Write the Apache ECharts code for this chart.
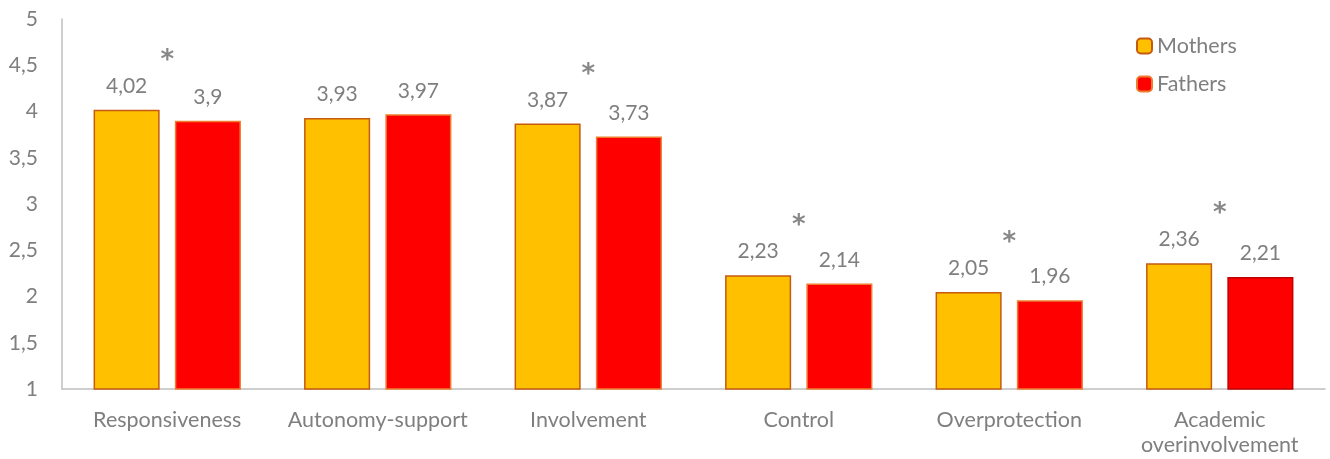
<!DOCTYPE html>
<html>
<head>
<meta charset="utf-8">
<script src="https://cdn.jsdelivr.net/npm/echarts@6/dist/echarts.min.js"></script>
<style>html,body{margin:0;padding:0;background:#fff;}#c{width:1330px;height:459px;}</style>
</head>
<body>
<div id="c"></div>
<script>
var categories = ['Responsiveness', 'Autonomy-support', 'Involvement', 'Control', 'Overprotection', 'Academic\noverinvolvement'];
var mothers = [4.02, 3.93, 3.87, 2.23, 2.05, 2.36];
var fathers = [3.9, 3.97, 3.73, 2.14, 1.96, 2.21];
var significant = [true, false, true, true, true, true];
var yTicks = [1, 1.5, 2, 2.5, 3, 3.5, 4, 4.5, 5];

var FONT = 'Lato, "Liberation Sans", sans-serif';
var GRAY = '#7f7f7f';
function fmt(v) { return String(v).replace('.', ','); }

var sigData = categories.map(function (c, i) {
  return significant[i] ? Math.max(mothers[i], fathers[i]) + 0.6 : null;
});

var fatherData = fathers.map(function (v, i) {
  return i === fathers.length - 1 ? { value: v, itemStyle: { borderColor: '#C00000' } } : v;
});

var chart = echarts.init(document.getElementById('c'));
chart.setOption({
  animation: false,
  textStyle: { fontFamily: FONT },
  grid: { left: 62, right: 5, top: 19, bottom: 70, containLabel: false },
  legend: {
    orient: 'vertical', left: 1131, top: 30, itemWidth: 15, itemHeight: 15, itemGap: 16,
    textStyle: { fontSize: 21.5, color: GRAY, fontFamily: FONT },
    data: ['Mothers', 'Fathers']
  },
  xAxis: {
    type: 'category', data: categories,
    axisLine: { lineStyle: { color: '#bfbfbf', width: 1.5 } },
    axisTick: { show: false },
    axisLabel: { color: GRAY, fontSize: 21.5, margin: 19, lineHeight: 25, fontFamily: FONT, interval: 0 }
  },
  yAxis: {
    type: 'value', min: 1, max: 5, interval: 0.5,
    axisLine: { show: true, lineStyle: { color: '#bfbfbf', width: 1.5 } },
    axisTick: { show: false },
    splitLine: { show: false },
    axisLabel: {
      color: GRAY, fontSize: 21, margin: 24, fontFamily: FONT,
      formatter: function (v) { return yTicks.indexOf(v) >= 0 ? fmt(v) : ''; }
    }
  },
  series: [
    {
      name: 'Mothers', type: 'bar', data: mothers, barGap: '23%', barCategoryGap: '30%',
      itemStyle: { color: '#FFC000', borderColor: '#C55A11', borderWidth: 1.5 },
      label: { show: true, position: 'top', distance: 13, color: GRAY, fontSize: 21, fontFamily: FONT, formatter: function (p) { return fmt(p.value); } }
    },
    {
      name: 'Fathers', type: 'bar', data: fatherData,
      itemStyle: { color: '#FF0000', borderColor: '#ED7D31', borderWidth: 1.5 },
      label: { show: true, position: 'top', distance: 13, color: GRAY, fontSize: 21, fontFamily: FONT, formatter: function (p) { return fmt(p.value); } }
    },
    {
      name: 'sig', type: 'scatter', data: sigData, symbolSize: 1,
      itemStyle: { color: 'rgba(0,0,0,0)' },
      label: { show: true, position: 'inside', offset: [0, 7], formatter: '*', color: '#6a6a6a', fontSize: 26, fontWeight: 'bold', fontFamily: '"DejaVu Sans", sans-serif' },
      silent: true, z: 5
    }
  ]
});
</script>
</body>
</html>
